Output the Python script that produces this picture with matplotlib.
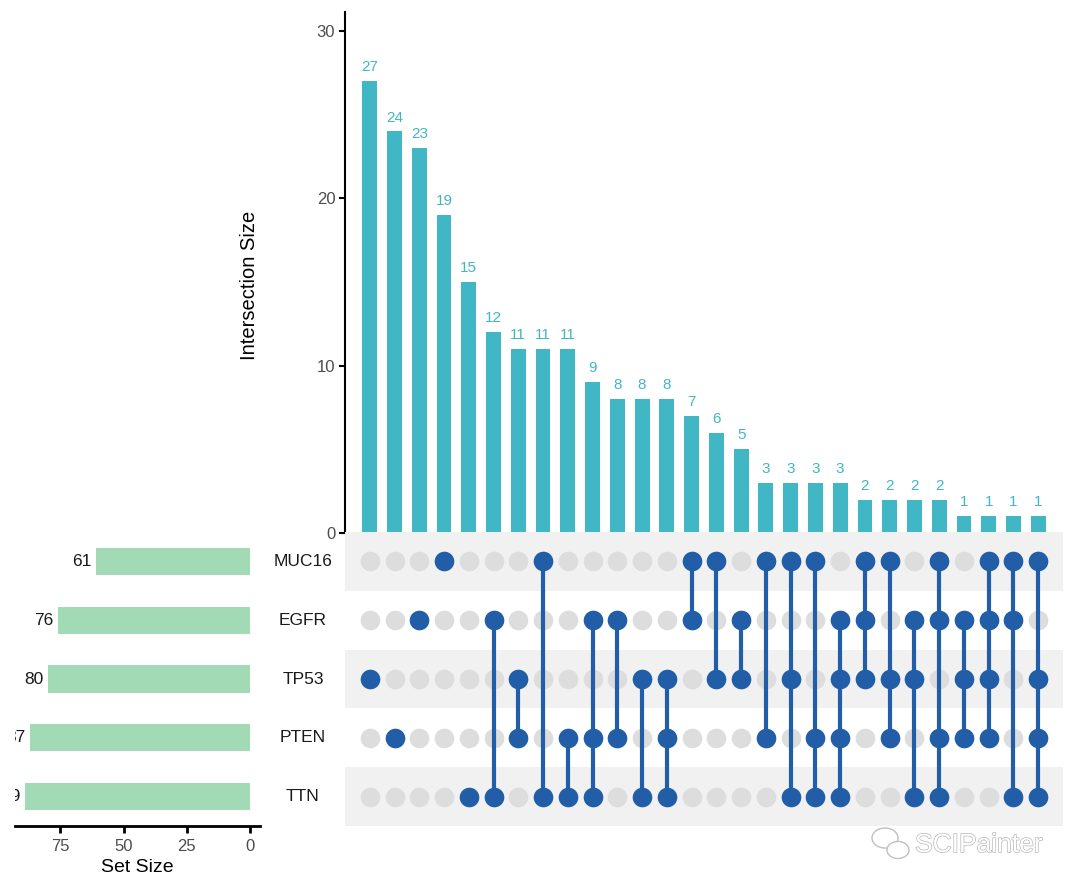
import matplotlib.pyplot as plt
import matplotlib.patheffects as pe
from matplotlib.patches import Ellipse
from matplotlib.transforms import blended_transform_factory

plt.rcParams['font.family'] = ['Liberation Sans', 'DejaVu Sans']

sets = ["MUC16", "EGFR", "TP53", "PTEN", "TTN"]
set_sizes = [61, 76, 80, 87, 89]

intersection_sizes = [27, 24, 23, 19, 15, 12, 11, 11, 11, 9, 8, 8, 8, 7,
                      6, 5, 3, 3, 3, 3, 2, 2, 2, 2, 1, 1, 1, 1]
intersection_members = [
    ["TP53"], ["PTEN"], ["EGFR"], ["MUC16"], ["TTN"],
    ["EGFR", "TTN"], ["TP53", "PTEN"], ["MUC16", "TTN"], ["PTEN", "TTN"],
    ["EGFR", "PTEN", "TTN"], ["EGFR", "PTEN"], ["TP53", "TTN"],
    ["TP53", "PTEN", "TTN"], ["MUC16", "EGFR"], ["MUC16", "TP53"],
    ["EGFR", "TP53"], ["MUC16", "PTEN"], ["MUC16", "TP53", "TTN"],
    ["MUC16", "PTEN", "TTN"], ["EGFR", "TP53", "PTEN", "TTN"],
    ["MUC16", "EGFR", "TP53"], ["MUC16", "TP53", "PTEN"],
    ["EGFR", "TP53", "TTN"], ["MUC16", "EGFR", "PTEN", "TTN"],
    ["EGFR", "TP53", "PTEN"], ["MUC16", "EGFR", "TP53", "PTEN"],
    ["MUC16", "EGFR", "TTN"], ["MUC16", "TP53", "PTEN", "TTN"],
]

bar_color = "#41B6C4"
set_color = "#A1DAB4"
dot_on = "#225EA8"
dot_off = "#DDDDDD"
shade = "#F1F1F1"
tick_grey = "#4D4D4D"

W, H = 1080, 888
fig = plt.figure(figsize=(W / 100, H / 100), dpi=100)

def box(x0, y0, x1, y1):
    return [x0 / W, 1 - y1 / H, (x1 - x0) / W, (y1 - y0) / H]

ax_bar = fig.add_axes(box(345, 12, 1063, 533))
ax_mat = fig.add_axes(box(345, 532, 1063, 826))
ax_set = fig.add_axes(box(15, 532, 260, 826))

n = len(intersection_sizes)
xs = list(range(n))

# intersection bars
ax_bar.bar(xs, intersection_sizes, width=0.6, color=bar_color)
for x, v in zip(xs, intersection_sizes):
    ax_bar.annotate(str(v), (x, v), xytext=(0, 5), textcoords="offset points",
                    ha="center", va="bottom", color=bar_color, fontsize=11)
ax_bar.set_xlim(-1, n)
ax_bar.set_ylim(0, 31.14)
ax_bar.set_yticks([0, 10, 20, 30])
ax_bar.set_xticks([])
for s in ["top", "right", "bottom"]:
    ax_bar.spines[s].set_visible(False)
ax_bar.spines["left"].set_linewidth(1.5)
ax_bar.tick_params(axis="y", length=4, width=1.5, labelsize=12, labelcolor=tick_grey, pad=3)
ax_bar.set_ylabel("Intersection Size", fontsize=14.5)
ax_bar.yaxis.set_label_coords(-86 / 718, (533 - 285) / 521)

# matrix
nrows = len(sets)
ax_mat.set_xlim(-1, n)
ax_mat.set_ylim(nrows - 0.5, -0.5)
for i in range(nrows):
    if i % 2 == 0:
        ax_mat.axhspan(i - 0.5, i + 0.5, color=shade, zorder=0, lw=0)
for x, members in zip(xs, intersection_members):
    rows = [sets.index(m) for m in members]
    off = [r for r in range(nrows) if r not in rows]
    ax_mat.scatter([x] * len(off), off, s=200, color=dot_off, zorder=2, lw=0)
    if len(rows) > 1:
        ax_mat.plot([x, x], [min(rows), max(rows)], color=dot_on, lw=3, zorder=3,
                    solid_capstyle="butt")
    ax_mat.scatter([x] * len(rows), rows, s=200, color=dot_on, zorder=4, lw=0)
ax_mat.axis("off")

# set names
tr = blended_transform_factory(fig.transFigure, ax_mat.transData)
for i, name in enumerate(sets):
    ax_mat.text(303 / W, i, name, transform=tr, ha="center", va="center",
                fontsize=12.5, color="#1a1a1a", clip_on=False)

# set size bars
ax_set.barh(range(nrows), set_sizes, height=0.46, color=set_color)
for i, v in enumerate(set_sizes):
    ax_set.annotate(str(v), (v, i), xytext=(-3, 0), textcoords="offset points",
                    ha="right", va="center", fontsize=12.5, color="#1a1a1a",
                    clip_on=True)
ax_set.set_xlim(93.0, -3.97)
ax_set.set_ylim(nrows - 0.5, -0.5)
ax_set.set_xticks([75, 50, 25, 0])
ax_set.set_yticks([])
for s in ["top", "right", "left"]:
    ax_set.spines[s].set_visible(False)
ax_set.spines["bottom"].set_linewidth(2)
ax_set.tick_params(axis="x", length=5, width=2, labelsize=12, labelcolor=tick_grey, pad=4)
ax_set.set_xlabel("Set Size", fontsize=14, labelpad=4)

# watermark
fig.text(915 / W, 1 - 845 / H, "SCIPainter", fontsize=19, color="white",
         ha="left", va="center",
         path_effects=[pe.withStroke(linewidth=1.0, foreground="#b8b8b8")])
for cx, cy, w, h in [(885, 838, 26, 20), (898, 850, 22, 17)]:
    fig.patches.append(Ellipse((cx / W, 1 - cy / H), w / W, h / H,
                               transform=fig.transFigure, facecolor="white",
                               edgecolor="#c0c0c0", lw=1))

fig.savefig("out.png", dpi=100)
